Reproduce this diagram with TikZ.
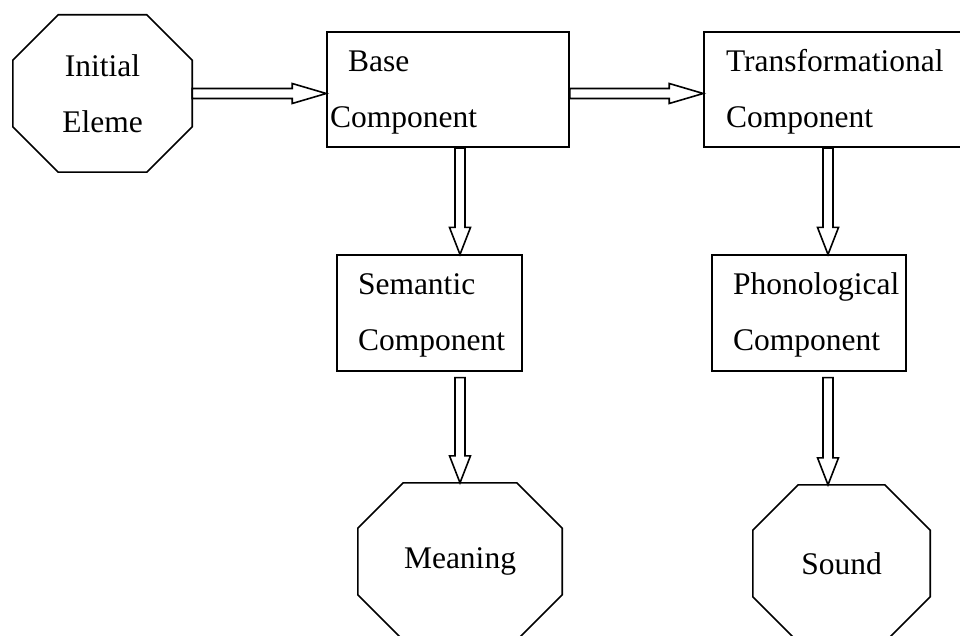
\documentclass[tikz,border=0pt]{standalone}
\usepackage{fontspec}
\setmainfont{Liberation Serif}
\usetikzlibrary{calc}
% outline of an octagon cut #2 deep at each corner of node #1
\newcommand\octoutline[2]{%
  \draw[line]
    ([xshift=#2]#1.north west) -- ([xshift=-#2]#1.north east) --
    ([yshift=-#2]#1.north east) -- ([yshift=#2]#1.south east) --
    ([xshift=-#2]#1.south east) -- ([xshift=#2]#1.south west) --
    ([yshift=#2]#1.south west) -- ([yshift=-#2]#1.north west) -- cycle;}
% strut that sets the height of a first text line
\newcommand\firststrut{\rule{0pt}{26.5pt}}
\begin{document}
\begin{tikzpicture}[x=1pt,y=-1pt,
  line/.style={line width=1.6pt, line join=miter},
  labelfont/.style={font=\fontsize{31.5}{56}\selectfont},
  box/.style={draw, line, rectangle, labelfont, align=left,
    inner ysep=0pt, minimum height=115.5pt},
  oct/.style={labelfont, align=center, inner sep=0pt, minimum height=157pt},
  fatarrow/.style={draw, fill=white, line},
  hfat/.style={to path={
    ($(\tikztostart)+(0,-5)$) -- ($(\tikztotarget)+(-34,-5)$) --
    ($(\tikztotarget)+(-34,-10)$) -- (\tikztotarget) --
    ($(\tikztotarget)+(-34,10)$) -- ($(\tikztotarget)+(-34,5)$) --
    ($(\tikztostart)+(0,5)$) -- cycle}},
  vfat/.style={to path={
    ($(\tikztostart)+(-5,0)$) -- ($(\tikztotarget)+(-5,-27)$) --
    ($(\tikztotarget)+(-10.5,-27)$) -- (\tikztotarget) --
    ($(\tikztotarget)+(10.5,-27)$) -- ($(\tikztotarget)+(5,-27)$) --
    ($(\tikztostart)+(5,0)$) -- cycle}}]
\fill[white] (0,0) rectangle (960,636);
\clip (0,0) rectangle (960,636);
\useasboundingbox (0,0) rectangle (960,636);

% component boxes
\node[box, minimum width=242pt, inner xsep=3pt, text width=236pt]
  (base) at (448,89.5) {\firststrut\hspace*{18pt}Base\\Component};
\node[box, minimum width=270pt, inner xsep=22pt, text width=226pt]
  (trans) at (839,89.5) {\firststrut Transformational\\Component};
\node[box, minimum width=185pt, inner xsep=21pt, text width=143pt]
  (sem) at (429.5,313) {\firststrut Semantic\\Component};
\node[box, minimum width=194pt, inner xsep=21pt, text width=152pt]
  (phon) at (809,313) {\firststrut Phonological\\Component};

% octagonal terminals
\node[oct, minimum width=179pt] (init) at (102.5,93.5) {Initial\\Eleme};
\node[oct, minimum width=204pt] (meaning) at (460,561.5) {Meaning};
\node[oct, minimum width=177pt] (sound) at (841.5,563.5) {Sound};
\octoutline{init}{45.5pt}
\octoutline{meaning}{45.5pt}
\octoutline{sound}{45.5pt}

% arrow end points
\coordinate (rc) at (828,0);
\coordinate (a1t) at (init.east -| base.west);
\coordinate (a2s) at (init.east -| base.east);
\coordinate (a2t) at (init.east -| trans.west);
\coordinate (a3s) at (base.south -| meaning.north);
\coordinate (a3t) at (sem.north -| meaning.north);
\coordinate (a4s) at ($(sem.south -| meaning.north)+(0,6)$);
\coordinate (a5s) at (trans.south -| rc);
\coordinate (a5t) at (phon.north -| rc);
\coordinate (a6s) at ($(phon.south -| rc)+(0,6)$);
\coordinate (a6t) at (sound.north -| rc);

% hollow block arrows
\path[fatarrow] (init.east) to[hfat] (a1t);
\path[fatarrow] (a2s) to[hfat] (a2t);
\path[fatarrow] (a3s) to[vfat] (a3t);
\path[fatarrow] (a4s) to[vfat] (meaning.north);
\path[fatarrow] (a5s) to[vfat] (a5t);
\path[fatarrow] (a6s) to[vfat] (a6t);
\end{tikzpicture}
\end{document}
